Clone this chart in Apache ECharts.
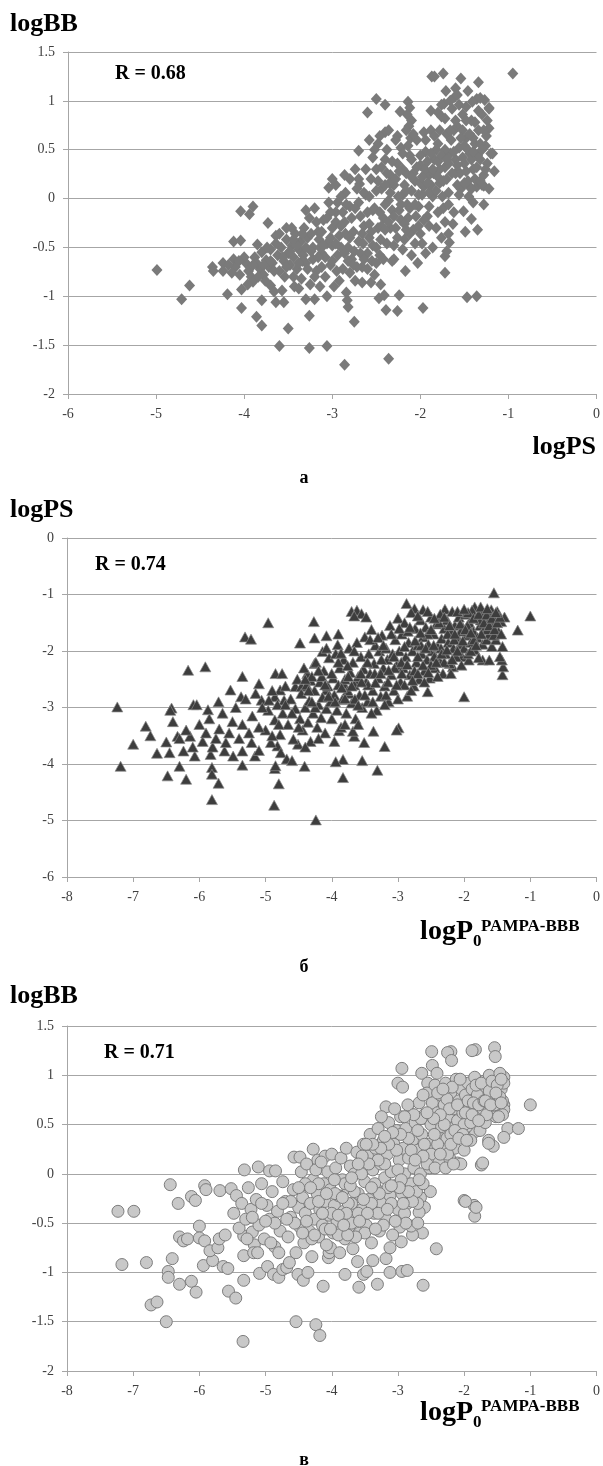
<!DOCTYPE html>
<html>
<head>
<meta charset="utf-8">
<script src="https://cdn.jsdelivr.net/npm/echarts@6/dist/echarts.min.js"></script>
<style>
  body { margin: 0; background: #fff; }
  #main { width: 603px; height: 1466px; }
</style>
</head>
<body>
<div id="main"></div>
<script>
// panel а: logPS (x) vs logBB (y)
const psBB = [
  [-4.99,-0.73],[-4.71,-1.03],[-4.62,-0.89],[-4.36,-0.70],[-4.35,-0.74],[-4.24,-0.66],[-4.24,-0.74],[-4.19,-0.98],
  [-4.12,-0.44],[-4.12,-0.62],[-4.04,-0.43],[-4.04,-0.13],[-3.94,-0.16],[-3.90,-0.08],[-4.03,-0.93],[-4.03,-1.12],
  [-3.86,-1.21],[-3.80,-1.30],[-3.80,-1.04],[-3.85,-0.47],[-3.73,-0.25],[-3.64,-0.38],[-3.60,-1.51],[-3.64,-1.06],
  [-3.55,-1.06],[-3.50,-1.33],[-3.57,-0.94],[-3.70,-0.89],[-3.52,-0.30],[-3.43,-0.90],[-3.30,-1.03],[-3.26,-1.20],
  [-3.26,-1.53],[-3.20,-1.03],[-3.06,-1.51],[-3.06,-1.00],[-2.86,-1.70],[-2.75,-1.26],[-2.82,-1.11],[-2.83,-1.04],
  [-2.36,-1.64],[-2.39,-1.14],[-2.26,-1.15],[-2.24,-0.99],[-2.47,-1.02],[-2.45,-0.88],[-2.41,-0.99],[-2.17,-0.74],
  [-2.03,-0.66],[-1.97,-1.12],[-1.72,-0.76],[-1.72,-0.59],[-1.47,-1.01],[-1.36,-1.00],[-1.49,-0.34],[-1.35,-0.32],
  [-1.42,-0.21],[-1.28,-0.06],[-1.51,-0.13],[-1.40,-0.04],[-1.67,-0.45],[-1.68,-0.36],[-1.72,-0.24],[-1.63,-0.26],
  [-0.95,1.28],[-1.74,1.28],[-1.87,1.25],[-1.84,1.25],[-1.54,1.23],[-1.34,1.19],[-1.71,1.10],[-1.60,1.13],
  [-1.61,1.04],[-2.50,1.02],[-2.40,0.96],[-2.60,0.88],[-2.40,0.68],[-2.26,0.64],[-1.96,0.68],[-2.70,0.49],
  [-1.36,1.02],[-1.27,1.01],[-1.22,0.92],[-1.41,0.99],[-1.18,0.46],[-1.16,0.28],[-3.04,0.11],[-2.85,0.06],
  [-2.69,0.15],[-1.28,0.13],[-1.44,0.12],
  [-2.14,0.99],[-2.12,0.93],[-2.15,0.86],[-2.10,0.80],[-2.13,0.74],[-2.16,0.70],[-2.11,0.62],[-2.23,0.89],
  [-1.88,0.90],[-1.80,0.88],[-1.73,0.97],[-1.32,1.03],[-1.22,0.93],
  [-4.10,-0.70],[-4.05,-0.78],[-3.98,-0.66],[-3.95,-0.74],[-3.92,-0.80],[-3.90,-0.85],[-3.88,-0.60],[-3.82,-0.72],
  [-3.80,-0.55],[-3.78,-0.78],[-3.75,-0.63],[-3.72,-0.70],[-3.70,-0.52],[-3.68,-0.66],[-3.66,-0.95],[-3.62,-0.58],
  [-3.60,-0.74],[-3.58,-0.50],[-3.55,-0.64],[-3.52,-0.42],[-3.50,-0.56],[-3.48,-0.68],[-3.46,-0.48],[-3.44,-0.60],
  [-3.42,-0.36],[-3.40,-0.72],[-3.38,-0.52],[-3.36,-0.44],[-3.35,-0.82],[-3.33,-0.58],[-3.32,-0.30],[-3.30,-0.66],
  [-3.28,-0.40],[-3.26,-0.20],[-3.25,-0.88],[-3.22,-0.50],[-3.20,-0.10],[-3.18,-0.74],[-3.16,-0.34],[-3.14,-0.90],
  [-3.12,-0.56],[-3.10,-0.22],[-3.08,-0.80],[-3.06,-0.46],[-3.04,-0.04],[-3.02,-0.68],[-3.00,-0.30],[-2.98,-0.90],
  [-2.96,-0.14],[-2.94,-0.58],[-2.92,-0.38],[-2.90,0.02],[-2.88,-0.72],[-2.86,-0.24],[-2.84,-0.96],[-2.82,-0.50],
  [-2.80,-0.08],[-2.78,-0.62],[-2.76,-0.34],[-2.74,-0.84],[-2.72,0.10],[-2.70,-0.44],[-2.68,-0.18],[-2.66,-0.70],
  [-2.64,-0.28],[-2.62,0.04],[-2.60,-0.56],[-2.58,-0.40],[-2.56,0.20],[-2.54,-0.12],[-2.52,-0.78],[-2.50,0.30],
  [-2.48,-0.30],[-2.46,-0.58],[-2.44,0.10],[-2.42,-0.20],[-2.40,0.40],[-2.38,-0.46],[-2.36,-0.02],[-2.34,0.24],
  [-2.32,-0.64],[-2.30,0.14],[-2.28,-0.30],[-2.26,0.36],[-2.24,-0.12],[-2.22,0.52],[-2.20,0.04],[-2.18,-0.42],
  [-2.16,0.26],[-2.14,-0.20],[-2.12,0.44],[-2.10,0.08],[-2.08,-0.32],[-2.06,0.18],[-2.04,0.60],[-2.02,-0.08],
  [-2.00,0.34],[-1.98,-0.46],[-1.96,0.12],[-1.94,0.48],[-1.92,-0.18],[-1.90,0.24],[-1.88,0.70],[-1.86,0.02],
  [-1.84,0.40],[-1.82,-0.30],[-1.80,0.56],[-1.78,0.16],[-1.76,0.84],[-1.74,-0.10],[-1.72,0.32],[-1.70,0.66],
  [-1.68,0.06],[-1.66,0.46],[-1.64,0.92],[-1.62,-0.14],[-1.60,0.26],[-1.58,0.74],[-1.56,0.52],[-1.54,0.10],
  [-1.52,0.86],[-1.50,0.36],[-1.48,0.62],[-1.46,0.18],[-1.44,0.46],[-1.42,0.80],[-1.40,0.30],[-1.38,0.56],
  [-1.36,0.12],[-1.34,0.70],[-1.32,0.40],[-1.30,0.86],[-1.28,0.24],[-1.26,0.54],[-1.24,0.36],[-1.22,0.72],[-1.20,0.46],
  [-3.86,-0.66],[-3.76,-0.84],[-3.64,-0.46],[-3.54,-0.80],[-3.46,-0.30],[-3.38,-0.92],[-3.30,-0.12],[-3.22,-0.62],
  [-3.15,-0.42],[-3.08,-0.60],[-3.00,-0.48],[-2.95,-0.74],[-2.90,-0.50],[-2.85,-0.36],[-2.80,-0.76],[-2.75,-0.54],
  [-2.70,-0.04],[-2.65,-0.46],[-2.60,-0.14],[-2.55,-0.64],[-2.50,0.08],[-2.45,-0.42],[-2.40,-0.06],[-2.35,0.16],
  [-2.30,-0.48],[-2.25,0.02],[-2.20,0.30],[-2.15,-0.06],[-2.10,0.40],[-2.05,-0.18],[-2.00,0.16],[-1.95,0.30],
  [-1.90,0.06],[-1.85,0.26],[-1.80,0.38],[-1.75,0.02],[-1.70,0.20],[-1.65,0.60],[-1.60,0.40],[-1.55,0.26],
  [-1.50,0.54],[-1.45,0.02],[-1.40,0.62],[-1.35,0.44],[-1.30,0.14],[-1.25,0.64],
  [-2.96,-0.24],[-2.88,-0.14],[-2.78,-0.20],[-2.68,-0.56],[-2.58,-0.26],[-2.48,0.18],[-2.38,0.26],[-2.28,0.20],
  [-2.18,0.14],[-2.08,0.26],[-1.98,0.22],[-1.88,0.14],[-1.78,0.30],[-1.68,0.36],[-1.58,0.14],[-1.48,0.28],
  [-1.38,0.20],[-2.32,-0.12],[-2.22,-0.22],[-2.12,-0.10],[-2.02,0.04],[-1.92,0.38],[-1.82,0.50],[-1.72,0.50],
  [-1.62,0.70],[-1.52,0.70],[-1.42,0.40],[-1.32,0.56],[-2.64,-0.62],[-2.54,-0.48],[-2.44,-0.28],[-2.34,-0.30],
  [-3.12,-0.70],[-3.02,-0.14],[-2.92,-0.84],[-2.82,-0.64],[-2.72,-0.70],[-3.44,-0.80],[-3.34,-0.64],[-3.24,-0.36],[-3.14,-0.50],
  [-2.58,0.02],[-2.56,-0.34],[-2.54,0.42],[-2.52,-0.10],[-2.50,-0.50],[-2.48,0.56],[-2.46,-0.14],[-2.44,0.32],
  [-2.42,-0.62],[-2.40,0.14],[-2.38,0.50],[-2.36,-0.24],[-2.34,0.06],[-2.32,0.38],[-2.30,-0.18],[-2.28,0.60],
  [-2.26,-0.40],[-2.24,0.28],[-2.22,-0.06],[-2.20,0.46],[-2.18,-0.26],[-2.16,0.08],[-2.14,0.54],[-2.12,-0.36],
  [-2.10,0.22],[-2.08,0.66],[-2.06,-0.06],[-2.04,0.32],[-2.02,-0.28],[-2.00,0.44],[-1.98,0.04],[-1.96,-0.22],
  [-1.94,0.60],[-1.92,0.16],[-1.90,-0.08],[-1.88,0.46],[-1.86,0.30],[-1.84,0.64],[-1.82,0.08],[-1.80,0.22],
  [-1.78,0.70],[-1.76,0.44],[-1.74,0.18],[-1.72,0.82],[-1.70,0.40],[-1.68,-0.06],[-1.66,0.70],[-1.64,0.26],
  [-1.62,0.48],[-1.60,0.80],[-1.58,0.34],[-1.56,0.04],[-1.54,0.62],[-1.52,0.42],[-1.50,0.16],[-1.48,0.80],
  [-1.46,0.50],[-1.44,0.66],[-1.42,0.10],[-1.40,0.48],[-1.38,0.78],[-1.36,0.32],[-1.34,0.90],[-1.32,0.18],
  [-1.30,0.50],[-1.28,0.70],[-1.26,0.30],[-1.24,0.80],[-1.22,0.10],[-1.56,0.96],[-1.66,1.00],[-1.76,0.96],
  [-1.48,0.94],[-1.46,1.10],[-1.58,1.06],[-2.64,0.06],[-2.66,-0.36],[-2.70,0.20],[-2.74,-0.10],[-2.76,-0.68],
  [-2.80,-0.40],[-2.84,-0.06],[-2.86,-0.56],[-2.90,-0.28],[-2.94,-0.04],[-2.96,-0.46],[-3.00,-0.64],[-3.02,-0.40],
  [-3.06,-0.20],[-3.10,-0.48],[-3.12,-0.34],[-3.16,-0.60],[-3.18,-0.24],[-3.20,-0.80],[-3.24,-0.54],[-3.28,-0.72],
  [-3.30,-0.50],[-3.34,-0.36],[-3.38,-0.66],[-3.40,-0.48],[-3.44,-0.42],[-3.48,-0.54],[-3.52,-0.70],[-3.56,-0.60],
  [-3.60,-0.36],[-3.66,-0.74],[-3.70,-0.64],[-3.74,-0.50],[-3.78,-0.68],[-3.84,-0.80],[-3.90,-0.68],[-3.96,-0.88],
  [-4.00,-0.60],[-4.06,-0.64],[-4.14,-0.76],[-4.18,-0.68],[-2.60,-0.72],[-2.56,-0.86],[-2.66,-0.86],[-2.50,-0.66],
  [-2.40,-0.32],[-2.30,-0.62],[-2.20,-0.52],[-2.16,-0.32],[-2.06,-0.46],[-2.00,-0.36],[-1.90,-0.28],[-1.80,-0.14],
  [-1.76,-0.40],[-1.70,-0.54],[-1.86,-0.50],[-1.94,-0.56],[-2.10,-0.58],[-2.36,0.70],[-2.46,0.64],[-2.52,0.50],
  [-2.58,0.60],[-2.62,0.30],[-2.74,0.30],[-2.80,0.20],[-2.86,0.24],[-2.96,0.14],[-3.00,0.20]
];

// panel б: logP0 PAMPA-BBB (x) vs logPS (y)
const pampaPS = [
  [-1.55,-0.97],[-1.00,-1.38],[-1.19,-1.63],[-1.42,-2.42],[-1.41,-2.28],[-1.43,-2.16],[-2.00,-2.81],[-2.55,-2.72],
  [-2.99,-3.36],[-2.87,-1.16],[-2.29,-1.26],[-1.84,-1.22],[-1.39,-1.40],[-1.59,-1.27],[-2.75,-1.25],[-2.62,-1.27],
  [-1.72,-2.16],[-1.62,-2.16],[-2.17,-2.28],[-2.03,-2.10],[-1.93,-2.16],
  [-4.96,-1.50],[-4.27,-1.48],[-5.31,-1.75],[-5.22,-1.79],[-6.17,-2.34],[-5.91,-2.28],[-7.24,-2.99],[-6.81,-3.33],
  [-6.42,-3.01],[-6.44,-3.05],[-6.09,-2.95],[-6.04,-2.95],[-5.87,-3.04],[-5.71,-2.90],[-5.53,-2.69],[-5.35,-2.45],
  [-5.10,-2.58],[-4.85,-2.40],[-4.75,-2.40],[-4.48,-1.86],[-4.08,-1.73],[-3.90,-1.70],
  [-7.19,-4.04],[-7.00,-3.65],[-6.74,-3.50],[-6.64,-3.81],[-6.48,-4.21],[-6.50,-3.61],[-6.45,-3.80],[-6.30,-4.04],
  [-6.20,-4.27],[-6.33,-3.51],[-6.24,-3.77],[-6.07,-3.86],[-6.14,-3.51],[-5.81,-4.63],[-5.71,-4.34],[-5.81,-4.06],
  [-5.81,-4.18],[-5.83,-3.83],[-5.62,-3.77],[-5.49,-3.86],[-5.35,-4.02],[-5.35,-3.77],[-5.21,-3.62],[-5.16,-3.86],
  [-5.10,-3.76],[-4.87,-4.73],[-4.86,-4.08],[-4.85,-4.03],[-4.80,-4.35],[-4.82,-3.68],[-4.77,-3.80],[-4.68,-3.91],
  [-4.60,-3.94],[-4.41,-4.04],[-4.51,-3.65],[-4.24,-4.99],[-3.83,-4.24],[-3.83,-3.92],[-3.94,-3.96],[-3.54,-3.94],
  [-3.51,-3.62],[-3.31,-4.11],[-3.20,-3.69],[-3.37,-3.42],[-3.02,-3.40],[-3.66,-3.51],[-3.89,-3.41],[-3.68,-3.42],
  [-3.70,-1.30],[-3.62,-1.28],[-3.55,-1.34],[-3.48,-1.40],[-3.66,-1.38],
  [-5.37,-2.81],[-4.86,-2.81],[-4.78,-2.69],[-5.06,-2.87],[-4.95,-2.87],[-4.72,-2.87],[-4.55,-2.63],[-4.46,-2.63],
  [-4.37,-2.40],[-4.32,-2.52],[-4.26,-2.22],[-4.14,-2.01],[-4.08,-1.95],[-3.91,-1.89],[-4.26,-1.77],[-4.08,-2.69],
  [-3.97,-2.81],[-3.82,-2.58],[-3.74,-2.75],[-3.62,-2.52],
  [-5.00,-3.40],[-4.96,-3.05],[-4.92,-3.62],[-4.90,-2.70],[-4.86,-3.22],[-4.82,-2.95],[-4.78,-3.48],[-4.74,-3.10],
  [-4.70,-2.62],[-4.66,-3.30],[-4.62,-2.85],[-4.58,-3.56],[-4.55,-3.02],[-4.52,-2.50],[-4.48,-3.20],
  [-4.46,-2.75],[-4.44,-3.40],[-4.42,-2.30],[-4.40,-3.00],[-4.38,-2.60],[-4.36,-3.26],[-4.34,-2.88],[-4.32,-3.60],
  [-4.30,-2.45],[-4.28,-3.10],[-4.26,-2.70],[-4.24,-2.20],[-4.22,-3.35],[-4.20,-2.95],[-4.18,-2.55],[-4.16,-3.18],
  [-4.14,-2.82],[-4.12,-2.35],[-4.10,-3.45],[-4.08,-3.02],[-4.06,-2.62],[-4.04,-2.12],[-4.02,-2.90],
  [-4.00,-3.20],[-3.98,-2.48],[-3.96,-2.78],[-3.94,-2.05],[-3.92,-3.05],[-3.90,-2.60],[-3.88,-2.30],[-3.86,-3.35],
  [-3.84,-2.86],[-3.82,-2.15],[-3.80,-2.50],[-3.78,-3.10],[-3.76,-2.70],[-3.74,-1.95],[-3.72,-2.38],[-3.70,-2.92],
  [-3.68,-2.20],[-3.66,-2.60],[-3.64,-3.20],[-3.62,-1.85],[-3.60,-2.45],[-3.58,-2.78],[-3.56,-2.10],[-3.54,-3.00],
  [-3.52,-2.32],[-3.50,-1.75],
  [-3.48,-2.55],[-3.46,-2.90],[-3.44,-2.05],[-3.42,-2.40],[-3.40,-1.62],[-3.38,-2.70],[-3.36,-2.22],[-3.34,-1.90],
  [-3.32,-3.05],[-3.30,-2.48],[-3.28,-2.00],[-3.26,-2.80],[-3.24,-1.72],[-3.22,-2.30],[-3.20,-2.62],[-3.18,-1.95],
  [-3.16,-2.15],[-3.14,-2.90],[-3.12,-1.55],[-3.10,-2.42],[-3.08,-2.05],[-3.06,-2.70],[-3.04,-1.80],[-3.02,-2.25],[-3.00,-1.42],
  [-2.98,-2.00],[-2.96,-2.55],[-2.94,-1.70],[-2.92,-2.30],[-2.90,-1.50],[-2.88,-2.10],[-2.86,-2.80],[-2.84,-1.85],
  [-2.82,-2.42],[-2.80,-1.32],[-2.78,-2.00],[-2.76,-2.62],[-2.74,-1.60],[-2.72,-2.20],[-2.70,-1.90],[-2.68,-2.50],
  [-2.66,-1.45],[-2.64,-2.05],[-2.62,-1.75],[-2.60,-2.35],[-2.58,-1.58],[-2.56,-2.15],[-2.54,-1.88],[-2.52,-2.48],[-2.50,-1.40],
  [-2.48,-2.00],[-2.46,-1.70],[-2.44,-2.30],[-2.42,-1.52],[-2.40,-1.92],[-2.38,-2.15],[-2.36,-1.35],[-2.34,-1.78],
  [-2.32,-2.40],[-2.30,-1.60],[-2.28,-2.05],[-2.26,-1.45],[-2.24,-1.85],[-2.22,-2.22],[-2.20,-1.65],[-2.18,-1.30],
  [-2.16,-1.95],[-2.14,-1.55],[-2.12,-2.10],[-2.10,-1.75],[-2.08,-1.40],[-2.06,-1.88],[-2.04,-2.25],[-2.02,-1.58],[-2.00,-1.95],
  [-1.98,-1.35],[-1.96,-1.72],[-1.94,-2.05],[-1.92,-1.50],[-1.90,-1.85],[-1.88,-1.28],[-1.86,-1.65],[-1.84,-1.98],
  [-1.82,-1.42],[-1.80,-1.76],[-1.78,-2.12],[-1.76,-1.55],[-1.74,-1.32],[-1.72,-1.88],[-1.70,-1.62],[-1.68,-1.40],
  [-1.66,-1.80],[-1.64,-1.50],[-1.62,-1.70],[-1.60,-1.35],[-1.58,-1.92],[-1.56,-1.58],[-1.54,-1.45],[-1.52,-1.80],
  [-1.50,-1.30],[-1.48,-1.66],[-1.46,-2.10],[-1.44,-1.48],[-1.42,-1.92],
  [-3.45,-2.60],[-3.35,-2.40],[-3.25,-2.15],[-3.15,-2.55],[-3.05,-2.30],[-2.95,-2.20],[-2.85,-1.65],[-2.75,-2.35],
  [-2.65,-1.90],[-2.55,-1.70],[-2.45,-2.10],[-2.35,-1.95],[-2.25,-1.70],[-2.15,-1.80],[-2.05,-1.65],[-1.95,-1.55],
  [-1.85,-1.80],[-1.75,-1.45],[-1.65,-1.62],[-1.55,-1.72],[-3.95,-2.90],[-3.85,-2.65],[-3.75,-2.45],[-3.65,-2.85],
  [-3.55,-2.55],[-4.35,-2.70],[-4.25,-3.00],[-4.15,-2.45],[-4.05,-2.80],[-2.90,-2.60],[-2.70,-2.40],[-2.50,-2.25],
  [-2.30,-2.20],[-2.10,-2.00],[-1.90,-2.00],
  [-6.40,-3.25],[-6.30,-3.55],[-6.20,-3.40],[-6.10,-3.70],[-6.00,-3.30],[-5.95,-3.60],[-5.90,-3.45],[-5.85,-3.20],
  [-5.80,-3.70],[-5.75,-3.55],[-5.70,-3.38],[-5.65,-3.10],[-5.60,-3.62],[-5.55,-3.45],[-5.50,-3.25],[-5.45,-3.00],
  [-5.40,-3.55],[-5.35,-3.30],[-5.30,-2.85],[-5.25,-3.45],[-5.20,-3.15],[-5.15,-2.75],[-5.10,-3.35],[-5.05,-3.00],
  [-3.90,-2.20],[-3.86,-2.04],[-3.80,-2.84],[-3.76,-2.26],[-3.70,-2.62],[-3.66,-2.00],[-3.60,-2.96],[-3.56,-2.40],
  [-3.50,-2.78],[-3.46,-2.20],[-3.42,-1.80],[-3.38,-2.90],[-3.34,-2.56],[-3.30,-1.76],[-3.26,-2.40],[-3.22,-1.90],
  [-3.18,-2.78],[-3.14,-2.34],[-3.10,-1.70],[-3.06,-2.10],[-3.02,-2.60],[-2.98,-1.60],[-2.94,-2.40],[-2.90,-1.92],
  [-2.86,-2.24],[-2.82,-1.58],[-2.78,-2.52],[-2.74,-1.82],[-2.70,-2.10],[-2.66,-1.68],[-2.62,-2.25],[-2.58,-1.95],
  [-2.54,-2.38],[-2.50,-1.62],[-2.46,-1.90],[-2.42,-2.20],[-2.38,-1.50],[-2.34,-2.05],[-2.30,-1.40],[-2.26,-1.98],
  [-2.22,-1.55],[-2.18,-2.15],[-2.14,-1.70],[-2.10,-1.30],[-2.06,-1.52],[-2.02,-1.82],[-1.98,-1.62],[-1.94,-1.32],
  [-1.90,-1.68],[-1.86,-1.42],[-1.82,-1.90],[-1.78,-1.35],[-1.74,-1.70],[-1.70,-1.50],[-1.66,-1.36],[-1.62,-1.55],
  [-1.58,-1.42],[-1.54,-1.62],[-1.50,-1.50],[-1.46,-1.40],[-1.44,-1.70],[-2.40,-2.45],[-2.20,-2.40],[-2.60,-2.55],
  [-2.80,-2.70],[-3.00,-2.85],[-3.20,-2.95],[-3.40,-3.10],[-3.60,-3.30],[-4.40,-2.50],[-4.30,-2.90],[-4.20,-2.35],
  [-4.10,-2.60],[-4.00,-2.40],[-4.50,-3.35],[-4.60,-3.10],[-4.70,-2.95],[-4.80,-3.30],[-4.90,-3.50],[-4.40,-3.70],
  [-4.20,-3.55],[-3.96,-3.60],[-3.80,-3.30],[-2.55,-1.30],[-2.45,-1.42],[-2.70,-1.38],[-2.00,-1.26],[-1.75,-1.22],
  [-1.65,-1.25],[-1.52,-1.32]
];

// panel в: logP0 PAMPA-BBB (x) vs logBB (y)
const pampaBB = [
  [-1.00,0.70],[-1.34,0.46],[-1.18,0.46],[-1.40,0.37],[-1.56,0.28],[-1.63,0.34],[-1.83,0.43],[-1.74,0.09],
  [-2.00,-0.27],[-1.85,-0.32],[-1.84,-0.43],[-1.82,-0.34],[-1.54,1.28],[-1.53,1.19],[-1.83,1.26],[-1.88,1.25],
  [-2.20,1.24],[-2.25,1.23],[-2.49,1.24],[-2.19,1.15],[-2.94,1.07],[-3.00,0.92],[-2.93,0.88],[-2.64,1.02],
  [-2.48,1.10],[-2.41,1.02],[-2.55,0.92],[-3.18,0.68],[-1.72,0.11],[-1.63,0.31],[-1.40,0.98],[-1.40,0.70],
  [-1.40,0.65],[-2.10,0.11],[-4.28,0.25],[-4.57,0.17],[-4.48,0.17],[-6.44,-0.11],[-5.92,-0.12],[-5.90,-0.16],
  [-6.32,-0.30],[-6.12,-0.23],[-6.06,-0.27],[-5.69,-0.17],[-5.52,-0.15],[-5.32,0.04],[-5.11,0.07],[-4.94,0.03],
  [-4.85,0.03],[-7.23,-0.38],[-6.99,-0.38],[-7.17,-0.92],[-6.80,-0.90],[-6.73,-1.33],[-6.64,-1.30],[-6.50,-1.50],
  [-6.47,-0.99],[-6.47,-1.05],[-6.41,-0.86],[-6.30,-1.12],[-6.12,-1.09],[-6.05,-1.20],[-6.30,-0.64],[-6.24,-0.68],
  [-6.18,-0.66],[-6.00,-0.53],[-6.00,-0.65],[-5.92,-0.68],[-5.94,-0.93],[-5.80,-0.88],[-5.84,-0.78],[-5.72,-0.75],
  [-5.70,-0.66],[-5.64,-0.94],[-5.57,-0.96],[-5.56,-1.19],[-5.45,-1.26],[-5.61,-0.62],[-5.34,-1.70],[-5.33,-1.08],
  [-5.33,-0.83],[-5.33,-0.63],[-5.20,-0.59],[-5.17,-0.72],[-5.09,-1.01],[-4.97,-0.94],[-4.88,-1.02],[-4.80,-1.05],
  [-4.74,-0.97],[-4.68,-0.95],[-4.64,-0.90],[-4.54,-1.50],[-4.51,-1.02],[-4.43,-1.08],[-4.36,-1.00],[-4.24,-1.53],
  [-4.18,-1.64],[-4.13,-1.14],[-4.05,-0.85],[-4.04,-0.80],[-4.02,-0.75],[-3.80,-1.02],[-3.61,-0.89],[-3.59,-1.15],
  [-3.52,-1.02],[-3.47,-0.99],[-3.38,-0.88],[-3.31,-1.12],[-3.12,-1.00],[-3.18,-0.86],[-3.12,-0.75],[-2.94,-0.99],
  [-2.86,-0.98],[-2.95,-0.69],[-2.62,-1.13],[-2.42,-0.76],[-2.63,-0.60],[-2.78,-0.62],[-2.97,-0.54],[-2.95,-0.46],
  [-2.51,-0.18],[-2.66,-0.24],[-2.60,-0.34],[-2.68,-0.39],[-2.80,-0.53],[-1.98,-0.28],[-4.21,0.14],[-4.10,0.18],
  [-5.48,-0.40],[-5.44,-0.22],[-5.40,-0.55],[-5.36,-0.30],[-5.30,-0.46],[-5.26,-0.14],[-5.22,-0.36],[-5.18,-0.80],
  [-5.14,-0.26],[-5.10,-0.52],[-5.06,-0.10],[-5.02,-0.66],[-4.98,-0.32],[-4.94,-0.46],[-4.90,-0.18],[-4.86,-0.74],
  [-4.82,-0.38],[-4.78,-0.58],[-4.74,-0.08],[-4.70,-0.28],[-4.66,-0.64],[-4.62,-0.44],[-4.58,-0.16],[-4.54,-0.80],[-4.50,-0.34],
  [-4.48,-0.54],[-4.46,0.02],[-4.44,-0.24],[-4.42,-0.70],[-4.40,-0.40],[-4.38,0.10],[-4.36,-0.12],[-4.34,-0.58],
  [-4.32,-0.30],[-4.30,-0.84],[-4.28,-0.06],[-4.26,-0.46],[-4.24,0.04],[-4.22,-0.20],[-4.20,-0.64],[-4.18,-0.36],
  [-4.16,0.12],[-4.14,-0.52],[-4.12,-0.10],[-4.10,-0.28],[-4.08,-0.72],[-4.06,0.02],[-4.04,-0.42],[-4.02,-0.16],
  [-4.00,0.20],[-3.98,-0.60],[-3.96,-0.32],[-3.94,0.06],[-3.92,-0.48],[-3.90,-0.22],[-3.88,-0.80],[-3.86,0.16],
  [-3.84,-0.06],[-3.82,-0.38],[-3.80,-0.66],[-3.78,0.26],[-3.76,-0.14],[-3.74,-0.54],[-3.72,0.08],[-3.70,-0.30],
  [-3.68,-0.76],[-3.66,0.00],[-3.64,-0.44],[-3.62,0.22],[-3.60,-0.20],[-3.58,-0.60],[-3.56,0.12],[-3.54,-0.36],[-3.52,0.30],
  [-3.50,-0.08],[-3.48,-0.52],[-3.46,0.18],[-3.44,-0.26],[-3.42,0.40],[-3.40,-0.70],[-3.38,0.04],[-3.36,-0.40],
  [-3.34,0.26],[-3.32,-0.16],[-3.30,0.46],[-3.28,-0.58],[-3.26,0.10],[-3.24,-0.30],[-3.22,0.34],[-3.20,-0.04],
  [-3.18,-0.46],[-3.16,0.20],[-3.14,0.52],[-3.12,-0.22],[-3.10,0.02],[-3.08,-0.62],[-3.06,0.30],[-3.04,-0.12],
  [-3.02,0.44],[-3.00,-0.36],[-2.98,0.14],[-2.96,0.58],[-2.94,-0.20],[-2.92,0.26],[-2.90,0.00],[-2.88,0.46],
  [-2.86,-0.30],[-2.84,0.16],[-2.82,0.62],[-2.80,-0.10],[-2.78,0.34],[-2.76,0.06],[-2.74,0.52],[-2.72,-0.18],
  [-2.70,0.24],[-2.68,0.72],[-2.66,0.00],[-2.64,0.40],[-2.62,-0.10],[-2.60,0.60],[-2.58,0.18],[-2.56,0.82],[-2.54,0.30],[-2.52,0.06],
  [-2.50,0.50],[-2.48,0.72],[-2.46,0.24],[-2.44,0.90],[-2.42,0.40],[-2.40,0.62],[-2.38,0.12],[-2.36,0.80],
  [-2.34,0.48],[-2.32,0.28],[-2.30,0.70],[-2.28,0.92],[-2.26,0.36],[-2.24,0.58],[-2.22,0.16],[-2.20,0.82],
  [-2.18,0.46],[-2.16,0.66],[-2.14,0.26],[-2.12,0.96],[-2.10,0.54],[-2.08,0.74],[-2.06,0.38],[-2.04,0.86],
  [-2.02,0.62],[-2.00,0.24],[-1.98,0.80],[-1.96,0.48],[-1.94,0.92],[-1.92,0.68],[-1.90,0.34],[-1.88,0.86],
  [-1.86,0.56],[-1.84,0.98],[-1.82,0.74],[-1.80,0.60],[-1.78,0.90],[-1.76,0.44],[-1.74,0.80],[-1.72,0.66],
  [-1.70,0.94],[-1.68,0.52],[-1.66,0.86],[-1.64,0.72],[-1.62,1.00],[-1.60,0.62],[-1.58,0.84],[-1.56,0.76],
  [-1.54,0.92],[-1.52,0.58],[-1.50,0.80],[-1.48,0.70],[-1.46,1.02],[-1.44,0.86],[-1.42,0.74],[-1.40,0.92],
  [-4.40,-0.10],[-4.20,-0.28],[-4.00,-0.40],[-3.80,-0.10],[-3.60,-0.40],[-3.40,-0.30],[-3.20,0.10],[-3.00,0.04],
  [-2.80,0.24],[-2.60,0.30],[-2.40,0.30],[-2.20,0.40],[-2.00,0.50],[-1.80,0.80],[-1.60,0.88],[-3.70,-0.50],
  [-3.50,-0.60],[-3.30,-0.40],[-3.10,-0.30],[-2.90,-0.40],[-2.70,-0.50],[-3.90,-0.62],[-4.10,-0.56],[-4.30,-0.66],
  [-3.25,0.58],[-3.05,0.66],[-2.85,0.70],[-2.65,0.56],[-2.45,0.40],[-2.25,0.20],[-2.05,0.10],[-2.70,-0.30],
  [-2.95,-0.06],[-3.15,-0.14],[-3.35,-0.10],[-3.55,0.00],[-3.75,-0.30],[-3.95,-0.20],
  [-2.30,0.50],[-2.26,0.76],[-2.22,0.66],[-2.18,0.88],[-2.14,0.44],[-2.10,0.70],[-2.06,0.96],[-2.02,0.40],
  [-1.98,0.62],[-1.94,0.74],[-1.90,0.52],[-1.86,0.72],[-1.82,0.90],[-1.78,0.70],[-1.74,0.92],[-1.70,0.74],
  [-1.66,0.60],[-1.62,0.84],[-1.58,0.94],[-1.54,0.70],[-1.50,0.90],[-1.46,0.78],[-1.44,0.96],[-1.42,0.60],
  [-2.40,0.82],[-2.36,0.60],[-2.32,0.86],[-2.46,0.56],[-2.56,0.62],[-2.62,0.80],[-2.70,0.44],[-2.76,0.60],
  [-2.84,0.36],[-2.90,0.58],[-2.96,0.40],[-3.02,0.24],[-3.08,0.42],[-3.14,0.30],[-3.20,0.38],[-3.26,0.26],
  [-3.30,0.14],[-3.38,0.30],[-3.44,0.10],[-3.48,0.30],[-3.54,0.18],[-3.60,0.10],[-3.66,-0.18],[-3.72,-0.12],
  [-3.78,-0.40],[-3.84,-0.24],[-3.90,-0.42],[-3.96,-0.06],[-4.02,-0.56],[-4.08,-0.20],[-4.14,-0.40],[-4.20,-0.10],
  [-4.26,-0.62],[-4.32,-0.14],[-4.38,-0.48],[-4.44,-0.60],[-4.50,-0.14],[-4.56,-0.50],[-4.62,-0.28],[-4.68,-0.46],
  [-4.74,-0.30],[-4.80,-0.80],[-4.86,-0.50],[-4.92,-0.70],[-5.00,-0.48],[-5.06,-0.30],[-5.12,-0.80],[-5.20,-0.44],
  [-5.28,-0.66],[-2.50,0.20],[-2.56,0.10],[-2.62,0.18],[-2.68,-0.06],[-2.74,0.14],[-2.78,-0.28],[-2.84,-0.18],
  [-2.88,-0.50],[-2.92,-0.30],[-2.98,-0.14],[-3.04,-0.48],[-3.10,-0.12],[-3.16,-0.36],[-3.22,-0.52],[-3.28,-0.20],
  [-3.34,-0.56],[-3.40,-0.14],[-3.46,-0.40],[-3.52,-0.26],[-3.58,-0.48],[-3.64,-0.64],[-3.70,-0.04],[-3.76,-0.62],
  [-3.82,-0.52],[-2.44,0.06],[-2.36,0.20],[-2.28,0.06],[-2.20,0.30],[-2.16,0.10],[-2.08,0.36],[-1.96,0.34],
  [-1.88,0.60],[-1.78,0.54],[-1.68,0.74],[-1.60,0.70],[-1.52,0.82],[-1.48,0.58],[-1.44,0.72]
];

// axis ranges [min, max, interval]
const xRangeA = [-6, 0, 1];
const yRangeA = [-2, 1.5, 0.5];
const xRangeB = [-8, 0, 1];
const yRangeB = [-6, 0, 1];
const xRangeC = [-8, 0, 1];
const yRangeC = [-2, 1.5, 0.5];

const rLabels = ['R = 0.68', 'R = 0.74', 'R = 0.71'];
const captions = ['а', 'б', 'в'];

const serif = '"Liberation Serif", "Times New Roman", serif';
const lineGray = '#a6a6a6';

function xAxisFor(idx, r) {
  return {
    type: 'value', gridIndex: idx, min: r[0], max: r[1], interval: r[2],
    axisLine: { show: true, onZero: false, lineStyle: { color: lineGray, width: 1 } },
    axisTick: { show: true, length: 5, lineStyle: { color: lineGray } },
    splitLine: { show: false },
    axisLabel: { fontFamily: serif, fontSize: 14, color: '#404040', margin: 13 }
  };
}
function yAxisFor(idx, r) {
  return {
    type: 'value', gridIndex: idx, min: r[0], max: r[1], interval: r[2],
    axisLine: { show: true, onZero: false, lineStyle: { color: lineGray, width: 1 } },
    axisTick: { show: true, length: 5, lineStyle: { color: lineGray } },
    splitLine: { show: true, lineStyle: { color: lineGray, width: 1 } },
    axisLabel: { fontFamily: serif, fontSize: 14, color: '#404040', margin: 13 }
  };
}

function txt(x, y, text, size, align) {
  return {
    type: 'text', x: x, y: y, silent: true,
    style: {
      text: text, fontFamily: serif, fontSize: size, fontWeight: 'bold',
      fill: '#000', align: align || 'left', verticalAlign: 'middle'
    }
  };
}

const chart = echarts.init(document.getElementById('main'));

chart.setOption({
  animation: false,
  backgroundColor: '#fff',
  grid: [
    { left: 68, top: 52, width: 532, height: 342 },
    { left: 67, top: 538, width: 532, height: 339 },
    { left: 67, top: 1026, width: 534, height: 345 }
  ],
  xAxis: [xAxisFor(0, xRangeA), xAxisFor(1, xRangeB), xAxisFor(2, xRangeC)],
  yAxis: [yAxisFor(0, yRangeA), yAxisFor(1, yRangeB), yAxisFor(2, yRangeC)],
  series: [
    {
      type: 'scatter', xAxisIndex: 0, yAxisIndex: 0, data: psBB,
      symbol: 'diamond', symbolSize: [11, 12],
      itemStyle: { color: '#7a7a7a', opacity: 1 }
    },
    {
      type: 'scatter', xAxisIndex: 1, yAxisIndex: 1, data: pampaPS,
      symbol: 'triangle', symbolSize: [11, 10],
      itemStyle: { color: '#3d3d3d', borderColor: '#8a8a8a', borderWidth: 0.7, opacity: 1 }
    },
    {
      type: 'scatter', xAxisIndex: 2, yAxisIndex: 2, data: pampaBB,
      symbol: 'circle', symbolSize: 12,
      itemStyle: { color: '#c8c8c8', borderColor: '#7d7d7d', borderWidth: 1, opacity: 1 }
    }
  ],
  graphic: [
    // panel а
    txt(10, 24, 'logBB', 26),
    txt(115, 74, rLabels[0], 20),
    txt(596, 447, 'logPS', 26, 'right'),
    txt(304, 478, captions[0], 18, 'center'),
    // panel б
    txt(10, 510, 'logPS', 26),
    txt(95, 565, rLabels[1], 20),
    txt(473, 932, 'logP', 28, 'right'),
    txt(473, 942, '0', 17),
    txt(481, 927, 'PAMPA-BBB', 17),
    txt(304, 967, captions[1], 18, 'center'),
    // panel в
    txt(10, 996, 'logBB', 26),
    txt(104, 1053, rLabels[2], 20),
    txt(473, 1413, 'logP', 28, 'right'),
    txt(473, 1423, '0', 17),
    txt(481, 1407, 'PAMPA-BBB', 17),
    txt(304, 1460, captions[2], 18, 'center')
  ]
});
</script>
</body>
</html>
